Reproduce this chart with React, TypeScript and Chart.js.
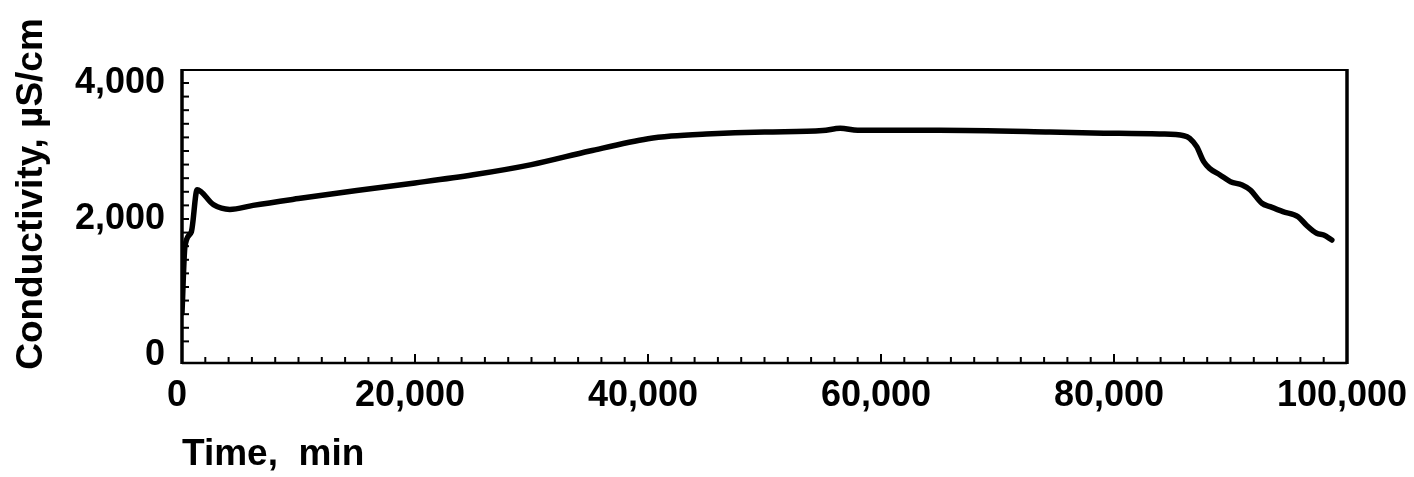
import React, { useEffect, useRef } from "react";
import { Chart, registerables } from "chart.js";

Chart.register(...registerables);

// Time (min) and conductivity (µS/cm)
const timeMin = [
  0, 250, 800, 1300, 2700, 4100, 6100, 10000, 15000, 20000, 25000, 30000, 35000,
  40000, 42000, 45000, 50000, 55000, 56500, 58000, 65000, 74500, 78200, 83900,
  86000, 86500, 87100, 87700, 88200, 89100, 90000, 91000, 91700, 92700, 93400,
  94500, 95800, 96500, 97400, 98000, 98700,
];
const conductivity = [
  620, 1590, 1810, 2430, 2210, 2140, 2200, 2300, 2420, 2530, 2650, 2800, 3000,
  3180, 3220, 3250, 3280, 3300, 3335, 3305, 3305, 3280, 3265, 3250,
  3225, 3187, 3063, 2843, 2745, 2647, 2549, 2500, 2426, 2231, 2181,
  2108, 2034, 1912, 1790, 1765, 1691,
];

const xTickValues = [0, 20000, 40000, 60000, 80000, 100000];
const yTickValues = [0, 2000, 4000];
const xMinorStep = 2000;
const yMinorStep = 200;
const xTitle = "Time,  min";
const yTitle = "Conductivity, µS/cm";

const FONT = "'Liberation Sans', Arial, Helvetica, sans-serif";

export default function App() {
  const ref = useRef<HTMLCanvasElement | null>(null);

  useEffect(() => {
    if (!ref.current) return;

    const framePlugin = {
      id: "frameAndTicks",
      afterDatasetsDraw(chart: any) {
        const { ctx, chartArea: a, scales } = chart;
        const xs = scales.x;
        const ys = scales.y;
        ctx.save();
        ctx.strokeStyle = "#000";
        ctx.fillStyle = "#000";
        ctx.lineCap = "butt";
        // inner x ticks
        ctx.lineWidth = 2;
        for (let v = xMinorStep; v < 100000; v += xMinorStep) {
          const px = xs.getPixelForValue(v);
          const major = v % 20000 === 0;
          ctx.beginPath();
          ctx.moveTo(px, a.bottom);
          ctx.lineTo(px, a.bottom - (major ? 9 : 6));
          ctx.stroke();
        }
        // inner y ticks
        for (let v = yMinorStep; v <= 4000; v += yMinorStep) {
          const py = ys.getPixelForValue(v);
          ctx.beginPath();
          ctx.moveTo(a.left, py);
          ctx.lineTo(a.left + 7, py);
          ctx.stroke();
        }
        // frame
        ctx.lineWidth = 2;
        ctx.beginPath();
        ctx.moveTo(a.left, a.top);
        ctx.lineTo(a.right, a.top);
        ctx.stroke();
        ctx.lineWidth = 2.5;
        ctx.beginPath();
        ctx.moveTo(a.left, a.bottom);
        ctx.lineTo(a.right, a.bottom);
        ctx.stroke();
        ctx.lineWidth = 3.5;
        ctx.beginPath();
        ctx.moveTo(a.left, a.top - 1);
        ctx.lineTo(a.left, a.bottom + 1);
        ctx.stroke();
        ctx.beginPath();
        ctx.moveTo(a.right, a.top - 1);
        ctx.lineTo(a.right, a.bottom + 1);
        ctx.stroke();
        // y axis title
        ctx.translate(32, 194);
        ctx.rotate(-Math.PI / 2);
        ctx.font = `bold 37px ${FONT}`;
        ctx.textAlign = "center";
        ctx.textBaseline = "middle";
        ctx.fillText(yTitle, 0, 0);
        ctx.restore();
      },
    };

    const chart = new Chart(ref.current, {
      type: "line",
      data: {
        datasets: [
          {
            data: timeMin.map((t, i) => ({ x: t, y: conductivity[i] })),
            borderColor: "#000",
            borderWidth: 5.5,
            pointRadius: 0,
            fill: false,
            cubicInterpolationMode: "monotone",
            borderJoinStyle: "round",
            borderCapStyle: "round",
          },
        ],
      },
      options: {
        animation: false,
        responsive: false,
        maintainAspectRatio: false,
        layout: { padding: { left: 0, right: 67, top: 70, bottom: 0 } },
        plugins: {
          legend: { display: false },
          tooltip: { enabled: false },
        },
        scales: {
          x: {
            type: "linear",
            min: 0,
            max: 100000,
            grid: { display: false, drawTicks: false },
            border: { display: false },
            afterBuildTicks: (s: any) => {
              s.ticks = xTickValues.map((v) => ({ value: v }));
            },
            afterFit: (s: any) => {
              s.height = 114;
              s.paddingLeft = 0;
              s.paddingRight = 0;
            },
            ticks: {
              padding: 11,
              labelOffset: -5,
              color: "#000",
              autoSkip: false,
              maxRotation: 0,
              font: { family: FONT, size: 36, weight: "bold" },
              callback: (v: any) => Number(v).toLocaleString("en-US"),
            },
            title: {
              display: true,
              text: xTitle,
              align: "start",
              color: "#000",
              font: { family: FONT, size: 37, weight: "bold" },
              padding: { top: 0, bottom: 0 },
            },
          },
          y: {
            type: "linear",
            min: -118,
            max: 4191,
            grid: { display: false, drawTicks: false },
            border: { display: false },
            afterBuildTicks: (s: any) => {
              s.ticks = yTickValues.map((v) => ({ value: v }));
            },
            afterFit: (s: any) => {
              s.width = 182;
              s.paddingTop = 0;
              s.paddingBottom = 0;
            },
            ticks: {
              padding: 17,
              color: "#000",
              font: { family: FONT, size: 36, weight: "bold" },
              callback: (v: any) => Number(v).toLocaleString("en-US"),
            },
          },
        },
      },
      plugins: [framePlugin],
    } as any);

    return () => chart.destroy();
  }, []);

  return (
    <div style={{ position: "fixed", left: 0, top: 0, width: 1414, height: 477, background: "#fff" }}>
      <canvas ref={ref} width={1414} height={477} style={{ display: "block", width: 1414, height: 477 }} />
    </div>
  );
}
